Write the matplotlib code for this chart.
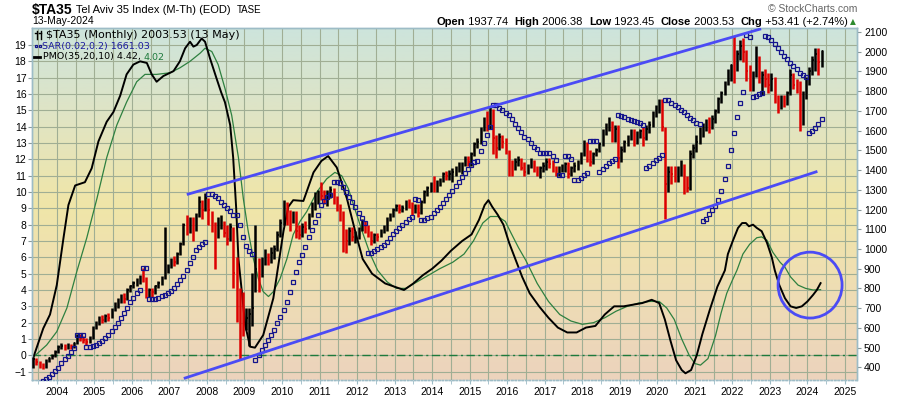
import matplotlib
matplotlib.use("Agg")
import matplotlib.pyplot as plt
import numpy as np
from matplotlib.patches import Ellipse
from matplotlib.lines import Line2D
from matplotlib.colors import LinearSegmentedColormap

# monthly bars, first bar = May 2003
start_year, start_month = 2003, 5

close = [
    440, 425, 410, 400, 430, 445, 460, 480,                              # 2003
    505, 510, 500, 515, 505, 525, 560, 550, 540, 530, 550, 600,          # 2004
    625, 650, 640, 660, 650, 690, 720, 735, 760, 745, 790, 810,          # 2005
    830, 840, 860, 850, 770, 790, 780, 810, 830, 855, 900, 915,          # 2006
    945, 935, 975, 1025, 1120, 1090, 1140, 1100, 1170, 1240, 1200, 1260, # 2007
    1200, 1170, 1050, 1140, 1150, 1080, 1050, 1110, 880, 760, 700, 640,  # 2008
    650, 670, 700, 900, 850, 930, 960, 940, 980, 1000, 1070, 1130,       # 2009
    1190, 1150, 1140, 1170, 1090, 1070, 1110, 1100, 1170, 1230, 1250, 1290,
    1270, 1260, 1280, 1300, 1260, 1220, 1180, 1050, 1040, 1090, 1060, 1070,
    1100, 1120, 1110, 1080, 1040, 1070, 1060, 1090, 1100, 1150, 1170, 1200,
    1220, 1200, 1210, 1240, 1230, 1190, 1220, 1180, 1240, 1290, 1310, 1330,
    1300, 1340, 1350, 1380, 1370, 1380, 1390, 1400, 1420, 1430, 1460, 1440,
    1480, 1530, 1540, 1610, 1650, 1620, 1700, 1560, 1510, 1570, 1540, 1500,
    1420, 1410, 1440, 1450, 1410, 1390, 1420, 1440, 1400, 1390, 1410, 1420,
    1440, 1430, 1410, 1390, 1400, 1420, 1430, 1380, 1410, 1420, 1440, 1480,
    1540, 1470, 1440, 1480, 1500, 1530, 1600, 1630, 1650, 1570, 1610, 1460,
    1500, 1540, 1560, 1600, 1540, 1580, 1600, 1560, 1610, 1630, 1690, 1720,
    1730, 1620, 1330, 1390, 1380, 1370, 1400, 1430, 1340, 1310, 1480, 1510,
    1540, 1600, 1610, 1640, 1620, 1660, 1700, 1760, 1790, 1840, 1870, 1930,
    1910, 1990, 2030, 2000, 1900, 1830, 1880, 1960, 1870, 1880, 1860, 1830,
    1860, 1760, 1720, 1760, 1740, 1790, 1880, 1830, 1820, 1640, 1780, 1850,
    1900, 1960, 1990, 1950.12, 2003.53,                                  # 2024
]
high = [
    455, 445, 430, 420, 440, 455, 470, 490,
    515, 525, 520, 525, 520, 530, 570, 570, 560, 550, 560, 610,
    635, 660, 665, 670, 675, 700, 730, 750, 770, 775, 800, 820,
    840, 855, 870, 905, 860, 800, 800, 820, 840, 865, 1110, 925,
    955, 965, 985, 1035, 1130, 1170, 1160, 1160, 1180, 1270, 1250, 1285,
    1260, 1190, 1135, 1160, 1170, 1140, 1120, 1130, 1110, 960, 800, 780,
    700, 700, 880, 1120, 955, 960, 1000, 980, 1010, 1020, 1090, 1150,
    1250, 1240, 1200, 1190, 1190, 1120, 1130, 1140, 1180, 1240, 1290, 1300,
    1340, 1300, 1300, 1320, 1310, 1270, 1230, 1190, 1100, 1110, 1110, 1090,
    1110, 1150, 1140, 1120, 1090, 1080, 1080, 1100, 1120, 1160, 1180, 1210,
    1230, 1230, 1225, 1250, 1255, 1240, 1230, 1230, 1250, 1300, 1320, 1340,
    1370, 1350, 1360, 1390, 1395, 1400, 1410, 1420, 1440, 1440, 1470, 1470,
    1490, 1540, 1560, 1620, 1670, 1700, 1720, 1710, 1580, 1590, 1580, 1560,
    1500, 1450, 1460, 1470, 1460, 1440, 1430, 1460, 1450, 1420, 1420, 1440,
    1460, 1460, 1450, 1420, 1420, 1430, 1440, 1440, 1420, 1440, 1450, 1490,
    1550, 1540, 1500, 1490, 1510, 1540, 1610, 1640, 1670, 1650, 1630, 1630,
    1520, 1550, 1580, 1610, 1610, 1600, 1610, 1620, 1630, 1650, 1700, 1730,
    1760, 1760, 1620, 1420, 1420, 1420, 1420, 1450, 1430, 1370, 1500, 1530,
    1580, 1620, 1640, 1660, 1670, 1680, 1710, 1770, 1800, 1850, 1910, 1940,
    2080, 2010, 2060, 2070, 2010, 1930, 1900, 2030, 1980, 1900, 1910, 1890,
    1890, 1870, 1780, 1780, 1780, 1800, 1910, 1890, 1860, 1850, 1800, 1870,
    1920, 1980, 2020, 2020, 2006.38,
]
low = [
    395, 410, 395, 390, 395, 425, 440, 455,
    475, 495, 490, 495, 495, 500, 520, 535, 525, 515, 525, 545,
    595, 615, 625, 630, 635, 650, 685, 700, 725, 725, 740, 780,
    800, 810, 825, 835, 750, 755, 755, 770, 800, 820, 850, 880,
    905, 915, 925, 970, 1020, 1070, 1080, 1040, 1090, 1160, 1150, 1190,
    1120, 1085, 900, 1055, 1100, 1060, 1020, 1040, 800, 630, 437, 560,
    590, 510, 610, 780, 780, 860, 920, 920, 930, 950, 990, 1060,
    1120, 1120, 1090, 1130, 1055, 1050, 1060, 1080, 1100, 1160, 1200, 1230,
    1250, 1230, 1220, 1260, 1230, 1190, 1140, 985, 980, 1020, 1040, 1030,
    1050, 1090, 1080, 1060, 1020, 1030, 1040, 1060, 1080, 1090, 1140, 1160,
    1190, 1180, 1185, 1200, 1210, 1170, 1180, 1160, 1175, 1235, 1270, 1290,
    1290, 1290, 1320, 1340, 1350, 1350, 1340, 1370, 1390, 1380, 1420, 1420,
    1420, 1470, 1510, 1530, 1600, 1600, 1610, 1480, 1460, 1500, 1510, 1480,
    1370, 1370, 1400, 1420, 1400, 1370, 1380, 1410, 1390, 1370, 1360, 1390,
    1400, 1410, 1390, 1370, 1370, 1390, 1390, 1360, 1370, 1390, 1400, 1430,
    1470, 1440, 1420, 1430, 1470, 1490, 1520, 1580, 1600, 1540, 1540, 1410,
    1440, 1490, 1520, 1550, 1520, 1530, 1560, 1520, 1550, 1590, 1620, 1670,
    1690, 1600, 1150, 1290, 1330, 1340, 1340, 1370, 1280, 1290, 1300, 1460,
    1490, 1530, 1570, 1600, 1590, 1610, 1640, 1690, 1740, 1780, 1830, 1850,
    1840, 1900, 1960, 1950, 1850, 1800, 1800, 1870, 1840, 1780, 1820, 1790,
    1800, 1740, 1690, 1710, 1720, 1730, 1780, 1810, 1790, 1600, 1630, 1760,
    1830, 1880, 1900, 1880, 1923.45,
]
sar = [
    300, 310, 320, 330, 340, 352, 366, 381,
    398, 420, 440, 457, 479, 499, 564, 564, 564, 504, 504, 508,
    513, 521, 533, 547, 564, 584, 606, 626, 651, 677, 702, 729,
    753, 775, 792, 905, 905, 745, 745, 745, 750, 761, 768, 775,
    788, 803, 821, 842, 864, 893, 927, 960, 994, 1010, 1025, 1037,
    1277, 1277, 1270, 1256, 1239, 1222, 1209, 1192, 1172, 1172, 1120, 1060,
    1015, 990, 973, 437, 462, 488, 513, 538, 564, 589, 623, 656,
    690, 732, 783, 834, 884, 932, 969, 1008, 1062, 1096, 1138, 1172,
    1222, 1245, 1262, 1275, 1341, 1341, 1336, 1315, 1290, 1265, 1239, 1214,
    1180, 1155, 1130, 981, 981, 991, 998, 1008, 1020, 1037, 1054, 1076,
    1092, 1107, 1121, 1138, 1150, 1160, 1253, 1250, 1146, 1146, 1155, 1160,
    1180, 1197, 1214, 1231, 1251, 1273, 1295, 1319, 1341, 1363, 1383, 1403,
    1424, 1442, 1445, 1498, 1535, 1577, 1620, 1729, 1729, 1713, 1704, 1687,
    1679, 1657, 1633, 1611, 1594, 1569, 1555, 1535, 1518, 1505, 1488, 1488,
    1488, 1488, 1471, 1451, 1375, 1375, 1471, 1471, 1455, 1349, 1349, 1358,
    1375, 1385, 1548, 1548, 1548, 1391, 1403, 1420, 1434, 1445, 1455, 1679,
    1673, 1667, 1660, 1653, 1647, 1642, 1637, 1628, 1409, 1420, 1434, 1451,
    1459, 1475, 1755, 1755, 1741, 1729, 1718, 1704, 1692, 1679, 1665, 1653,
    1640, 1633, 1141, 1150, 1175, 1197, 1217, 1246, 1292, 1353, 1420, 1500,
    1590, 1670, 1741, 1794, 2084, 2072, 1768, 1775, 1785, 1792, 2079, 2075,
    2059, 2039, 2017, 1996, 1978, 1961, 1944, 1927, 1910, 1893, 1881, 1870,
    1589, 1598, 1611, 1635, 1661.03,
]

# PMO(35,20,10) line and its signal line, read at points along the curves
pmo_t = [2003.38, 2003.64, 2003.82, 2004.0, 2004.18, 2004.31, 2004.49, 2004.75,
         2004.93, 2005.11, 2005.33, 2005.51, 2005.69, 2005.86, 2006.04, 2006.22,
         2006.4, 2006.53, 2006.66, 2006.84, 2007.11, 2007.28, 2007.42, 2007.55,
         2007.64, 2007.73, 2007.86, 2007.95, 2008.08, 2008.25, 2008.38, 2008.48,
         2008.62, 2008.7, 2008.78, 2008.84, 2008.93, 2009.02, 2009.15, 2009.28,
         2009.5, 2009.77, 2010.04, 2010.17, 2010.3, 2010.57, 2010.84, 2011.05,
         2011.23, 2011.46, 2011.73, 2011.95, 2012.15, 2012.4,
         2012.75, 2013.0, 2013.25, 2013.5, 2013.75, 2014.0, 2014.25, 2014.5,
         2014.8, 2015.05, 2015.25, 2015.4, 2015.5, 2015.6, 2015.75, 2015.9,
         2016.05, 2016.2, 2016.4, 2016.6, 2016.85, 2017.1, 2017.35, 2017.6,
         2017.85, 2018.1, 2018.35, 2018.6, 2018.85, 2019.1, 2019.35, 2019.6,
         2019.85, 2020.05, 2020.2, 2020.35, 2020.5, 2020.65, 2020.75, 2020.9,
         2021.05, 2021.2, 2021.4, 2021.6, 2021.8, 2021.88, 2022.01, 2022.15,
         2022.26, 2022.36, 2022.44, 2022.55, 2022.65, 2022.78, 2022.92, 2023.05,
         2023.13, 2023.25, 2023.4, 2023.55, 2023.7, 2023.85, 2024.0, 2024.15,
         2024.25, 2024.35]
pmo_v = [-0.1, 1.65, 2.5, 4.3, 7.2, 9.2, 10.4, 10.6,
         11.45, 13.1, 14.3, 14.9, 15.9, 17.2, 17.8, 18.0,
         17.9, 17.2, 16.75, 17.1, 17.4, 18.0, 18.8, 19.2,
         18.9, 19.0, 19.4, 19.2, 18.2, 17.0, 16.1, 15.5,
         14.1, 12.1, 9.0, 5.9, 3.9, 1.86, 0.53, 0.47,
         1.24, 3.5, 7.6, 9.1, 9.5, 9.45, 11.2, 11.9,
         12.2, 11.5, 9.6, 7.6, 5.9, 5.0,
         4.4, 4.2, 4.0, 4.4, 4.9, 5.3, 5.8, 6.4,
         7.0, 7.4, 8.3, 9.2, 9.5, 9.1, 8.6, 8.0,
         6.9, 6.0, 4.8, 3.8, 3.0, 2.3, 1.7, 1.4,
         1.4, 1.7, 1.8, 2.5, 3.0, 3.0, 3.1, 3.2,
         3.4, 3.2, 2.2, 0.9, -0.3, -0.9, -1.1, -0.9,
         0.0, 1.3, 2.8, 4.2, 5.2, 6.2, 7.0, 7.8,
         8.1, 8.1, 7.9, 8.0, 7.8, 7.6, 6.9, 6.0,
         5.2, 4.3, 3.5, 3.0, 2.9, 3.0, 3.3, 3.7,
         4.0, 4.42]
sig_t = [2003.38, 2003.73, 2004.0, 2004.27, 2004.53, 2004.8, 2005.07, 2005.33,
         2005.6, 2005.86, 2006.13, 2006.35, 2006.66, 2007.02, 2007.28, 2007.55,
         2007.82, 2007.95, 2008.13, 2008.3, 2008.48, 2008.66, 2008.84, 2008.97,
         2009.1, 2009.24, 2009.37, 2009.5, 2009.64, 2009.77, 2009.95, 2010.13,
         2010.3, 2010.48, 2010.66, 2010.93, 2011.19, 2011.41, 2011.59, 2011.77,
         2011.95, 2012.15, 2012.35, 2012.55, 2012.8, 2013.05, 2013.3, 2013.6,
         2013.9, 2014.2, 2014.55, 2014.85, 2015.1, 2015.35, 2015.55, 2015.75,
         2015.95, 2016.1, 2016.3, 2016.5, 2016.8, 2017.1, 2017.4, 2017.7,
         2018.0, 2018.3, 2018.6, 2018.9, 2019.2, 2019.5, 2019.8, 2020.05,
         2020.25, 2020.45, 2020.65, 2020.85, 2021.0, 2021.15, 2021.35, 2021.55,
         2021.7, 2021.85, 2022.0, 2022.12, 2022.28, 2022.46, 2022.65, 2022.78,
         2022.92, 2023.08, 2023.27, 2023.4, 2023.55, 2023.75, 2023.95, 2024.15,
         2024.35]
sig_v = [-0.1, 0.63, 1.45, 2.9, 5.1, 7.2, 9.6, 12.1,
         14.1, 15.5, 16.75, 17.2, 17.2, 17.3, 17.6, 18.0,
         18.5, 18.8, 18.6, 17.8, 16.35, 14.7, 12.1, 9.6,
         7.6, 5.9, 4.7, 3.9, 3.6, 3.9, 4.7, 5.9,
         7.4, 8.2, 8.8, 10.0, 10.8, 11.2, 11.0, 10.2,
         8.9, 7.5, 6.2, 5.2, 4.5, 4.1, 4.1, 4.5,
         4.9, 5.3, 5.7, 6.2, 7.0, 8.1, 8.5, 8.5,
         8.2, 7.5, 6.6, 5.8, 4.4, 3.3, 2.5, 2.1,
         1.9, 2.0, 2.3, 2.7, 3.0, 3.2, 3.3, 3.3,
         2.9, 2.2, 1.0, 0.0, -0.5, -0.6, -0.2, 1.2,
         2.6, 3.8, 4.6, 5.2, 6.2, 6.8, 7.2, 7.25,
         7.05, 6.3, 5.7, 5.4, 4.8, 4.3, 4.1, 4.0,
         4.02]

# hand-drawn annotations (decimal year, price)
upper_trend = ([2007.50, 2022.73], [1278, 2114])
lower_trend = ([2007.42, 2024.23], [346, 1391])
circle_center = (2024.07, 817)
circle_size = (1.705, 334)

n = len(close)
t = np.array([start_year + (start_month - 1 + i + 0.5) / 12 for i in range(n)])
colors = ['#dd0000' if i > 0 and close[i] < close[i - 1] else 'black' for i in range(n)]

plt.rcParams['font.family'] = ['Liberation Sans', 'DejaVu Sans']
fig = plt.figure(figsize=(9, 3.96), dpi=100)
ax = fig.add_axes([32 / 900, 1 - 380 / 396, 825 / 900, 352 / 396])
ax2 = ax.twinx()

# background gradient
cmap = LinearSegmentedColormap.from_list('bg', [
    (0.0, '#ecd3bd'), (0.3, '#efdfb2'), (0.5, '#f0e6a8'),
    (0.75, '#e0e4c4'), (1.0, '#cde4dc')])
grad = np.linspace(0, 1, 256).reshape(-1, 1)
ax.imshow(grad, cmap=cmap, origin='lower', extent=[0, 1, 0, 1],
          transform=ax.transAxes, aspect='auto', zorder=0)

ax.set_xlim(2003.34, 2025.32)
ax.set_ylim(-1.51, 20.04)
ax2.set_ylim(336, 2120)

ax.set_axisbelow(True)
ax.set_yticks(range(-1, 20))
ax.set_xticks(range(2004, 2026))
ax.set_xticks(np.arange(2003.5, 2025.5, 1.0), minor=True)
ax.grid(True, which='both', color='#a0ae94', lw=0.8)
ax.tick_params(axis='y', labelsize=7.5, length=3, color='#8a9a9a', pad=1)
ax.tick_params(axis='x', which='major', labelsize=7.5, length=3, color='#9dbcc6', pad=2)
ax.tick_params(axis='x', which='minor', length=3, color='#9dbcc6')
ax2.set_yticks(range(400, 2101, 100))
ax2.tick_params(axis='y', labelsize=7.5, length=3, color='#8a9a9a', pad=2)

for a in (ax, ax2):
    for s in a.spines.values():
        s.set_color('#9dbcc6')
        s.set_linewidth(1)
    a.spines['bottom'].set_linestyle((0, (1, 1.5)))

# PMO on left scale
ax.axhline(0, color='#1e7a3c', lw=1, ls=(0, (6, 2.5, 1.5, 2.5)), zorder=2)
ax.plot(sig_t, sig_v, color='#2e8040', lw=0.9, zorder=3)
ax.plot(pmo_t, pmo_v, color='black', lw=1.4, zorder=3)

# price bars and SAR on right scale
ax2.vlines(t, low, high, colors=colors, lw=1.8, zorder=3)
ax2.hlines(close, t, t + 0.04, colors=colors, lw=1.2, zorder=3)
ax2.plot(t, sar, 's', ms=2.4, mfc='none', mec='#14148c', mew=0.9, zorder=4)
ax2.plot(*upper_trend, color='#4b4bf5', lw=2.0, zorder=5)
ax2.plot(*lower_trend, color='#4b4bf5', lw=2.0, zorder=5)
ax2.add_patch(Ellipse(circle_center, circle_size[0], circle_size[1],
                      fill=False, ec='#4b4bf5', lw=2.0, zorder=5))

# header texts
fig.canvas.draw()
r = fig.canvas.get_renderer()


def put_row(pieces, x, y, align='left'):
    seq = pieces if align == 'left' else pieces[::-1]
    for txt, kw in seq:
        tt = fig.text(x / 900, 1 - y / 396, txt, va='center',
                      ha=align, **kw)
        w = tt.get_window_extent(r).width
        x = x + w if align == 'left' else x - w


put_row([('$TA35', dict(fontsize=10, fontweight='bold')),
         (' Tel Aviv 35 Index (M-Th) (EOD)  ', dict(fontsize=8)),
         ('TASE', dict(fontsize=7))], 32, 10)
fig.text(32 / 900, 1 - 21 / 396, '13-May-2024', fontsize=7.5, va='center')
fig.text(857 / 900, 1 - 9 / 396, '\u00a9 StockCharts.com', fontsize=7.5,
         va='center', ha='right', color='#666666')
b = dict(fontsize=8, fontweight='bold')
p = dict(fontsize=8)
put_row([('Open', b), (' 1937.74  ', p), ('High', b), (' 2006.38  ', p),
         ('Low', b), (' 1923.45  ', p), ('Close', b), (' 2003.53  ', p),
         ('Chg', b), (' +53.41 (+2.74%)', p)], 848, 22, align='right')
fig.text(853 / 900, 1 - 22 / 396, '\u25b2', fontsize=5.5, color='#2e8b2e',
         va='center', ha='center', family='DejaVu Sans')

# legend block inside the panel
fig.text(46 / 900, 1 - 35 / 396, '$TA35 (Monthly) 2003.53 (13 May)',
         fontsize=8, family='DejaVu Sans', va='center')
for xx in (36.5, 40.5):
    fig.add_artist(Line2D([xx / 900, xx / 900], [1 - 31 / 396, 1 - 39 / 396],
                          color='black', lw=1))
fig.add_artist(Line2D([35 / 900, 36.5 / 900], [1 - 33 / 396, 1 - 33 / 396], color='black', lw=1))
fig.add_artist(Line2D([39 / 900, 40.5 / 900], [1 - 33 / 396, 1 - 33 / 396], color='black', lw=1))
fig.add_artist(Line2D([36 / 900, 39.5 / 900], [1 - 46 / 396, 1 - 46 / 396], ls='none',
                      marker='s', ms=2.0, mfc='none', mec='#14148c', mew=0.9))
fig.text(42 / 900, 1 - 46 / 396, 'SAR(0.02,0.2) 1661.03', fontsize=6.8,
         color='#1a1aa0', family='DejaVu Sans', va='center')
fig.add_artist(Line2D([34 / 900, 40 / 900], [1 - 57 / 396, 1 - 57 / 396],
                      color='black', lw=2))
put_row([('PMO(35,20,10) 4.42, ', dict(fontsize=6.8, color='black', family='DejaVu Sans')),
         ('4.02', dict(fontsize=6.8, color='#1e7a3c', family='DejaVu Sans'))], 43, 57)

fig.savefig('out.png', dpi=100)
